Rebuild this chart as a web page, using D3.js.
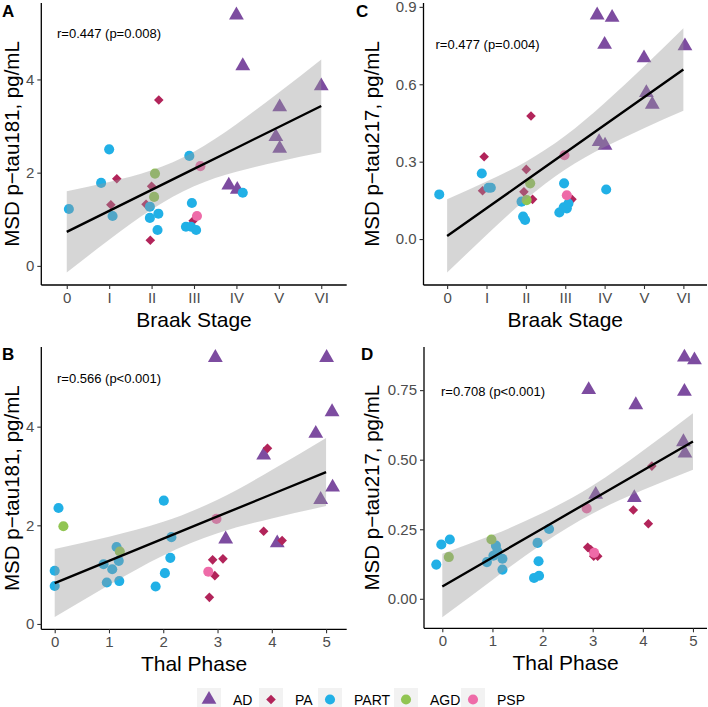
<!DOCTYPE html>
<html>
<head>
<meta charset="utf-8">
<script src="https://cdn.jsdelivr.net/npm/d3@7"></script>
<style>
  html, body { margin: 0; padding: 0; background: #fff; }
  svg { display: block; font-family: "Liberation Sans", Arial, Helvetica, sans-serif; }
</style>
</head>
<body>
<svg id="chart" width="708" height="707"></svg>
<script>
// ---------------- DATA ----------------
const groups = ["AD", "PA", "PART", "AGD", "PSP"];
const groupColors = ["#7D4CA0", "#B2245A", "#21B0E6", "#91C552", "#EE6BA8"];

const braakTickLabels = ["0", "I", "II", "III", "IV", "V", "VI"];
const thalTickLabels = ["0", "1", "2", "3", "4", "5"];
const p181Ticks = [0, 2, 4];
const p217BraakTicks = [0.0, 0.3, 0.6, 0.9];
const p217ThalTicks = [0.00, 0.25, 0.50, 0.75];

// Panel A: Braak stage vs p-tau181  [group, x, y]
const braakP181 = [
  ["AD", 4.00, 5.38], ["AD", 4.15, 4.29], ["AD", 6.00, 3.86], ["AD", 5.02, 3.41],
  ["AD", 4.93, 2.77], ["AD", 5.02, 2.52], ["AD", 3.82, 1.73], ["AD", 4.02, 1.64],
  ["PA", 2.17, 3.56], ["PA", 1.18, 1.87], ["PA", 1.04, 1.31], ["PA", 2.00, 1.71],
  ["PA", 1.87, 1.32], ["PA", 1.97, 0.55], ["PA", 2.98, 0.97],
  ["PART", 0.05, 1.22], ["PART", 1.00, 2.50], ["PART", 0.81, 1.78], ["PART", 1.08, 1.07],
  ["PART", 1.96, 1.27], ["PART", 1.96, 1.03], ["PART", 2.16, 1.12], ["PART", 2.14, 0.77],
  ["PART", 2.89, 2.36], ["PART", 2.95, 1.35], ["PART", 2.81, 0.84], ["PART", 2.93, 0.84],
  ["PART", 3.05, 0.77], ["PART", 4.15, 1.57],
  ["AGD", 2.08, 1.98], ["AGD", 2.06, 1.48],
  ["PSP", 3.15, 2.14], ["PSP", 3.07, 1.07]
];

// Panel C: Braak stage vs p-tau217
const braakP217 = [
  ["AD", 3.81, 0.868], ["AD", 4.19, 0.859], ["AD", 4.00, 0.754], ["AD", 6.04, 0.748],
  ["AD", 5.00, 0.702], ["AD", 5.06, 0.567], ["AD", 5.21, 0.522], ["AD", 3.86, 0.377],
  ["AD", 4.01, 0.363],
  ["PA", 2.13, 0.477], ["PA", 0.94, 0.319], ["PA", 2.01, 0.270], ["PA", 0.90, 0.187],
  ["PA", 1.95, 0.183], ["PA", 2.17, 0.154], ["PA", 3.17, 0.154],
  ["PART", -0.20, 0.173], ["PART", 0.88, 0.254], ["PART", 1.05, 0.199], ["PART", 1.11, 0.199],
  ["PART", 1.89, 0.145], ["PART", 1.93, 0.087], ["PART", 1.98, 0.074], ["PART", 2.97, 0.216],
  ["PART", 2.85, 0.103], ["PART", 2.96, 0.123], ["PART", 3.04, 0.119], ["PART", 3.08, 0.138],
  ["PART", 4.04, 0.192],
  ["AGD", 2.11, 0.216], ["AGD", 2.02, 0.151],
  ["PSP", 2.98, 0.325], ["PSP", 3.04, 0.170]
];

// Panel B: Thal phase vs p-tau181
const thalP181 = [
  ["AD", 2.96, 5.40], ["AD", 5.01, 5.40], ["AD", 5.11, 4.30], ["AD", 4.81, 3.86],
  ["AD", 3.85, 3.42], ["AD", 5.12, 2.77], ["AD", 4.90, 2.52], ["AD", 3.15, 1.72],
  ["AD", 4.10, 1.64],
  ["PA", 3.92, 3.56], ["PA", 3.85, 1.88], ["PA", 4.19, 1.69], ["PA", 2.91, 1.30],
  ["PA", 3.10, 1.32], ["PA", 2.95, 0.98], ["PA", 2.85, 0.54],
  ["PART", 0.07, 2.35], ["PART", 0.00, 1.08], ["PART", 0.00, 0.77], ["PART", 2.01, 2.50],
  ["PART", 2.15, 1.76], ["PART", 1.14, 1.56], ["PART", 0.90, 1.21], ["PART", 1.18, 1.28],
  ["PART", 1.06, 1.11], ["PART", 0.96, 0.84], ["PART", 1.19, 0.87], ["PART", 2.13, 1.34],
  ["PART", 2.03, 1.03], ["PART", 1.86, 0.76],
  ["AGD", 0.16, 1.98], ["AGD", 1.20, 1.47],
  ["PSP", 2.98, 2.13], ["PSP", 2.83, 1.06]
];

// Panel D: Thal phase vs p-tau217
const thalP217 = [
  ["AD", 4.83, 0.868], ["AD", 5.03, 0.858], ["AD", 2.92, 0.751], ["AD", 4.83, 0.745],
  ["AD", 3.86, 0.697], ["AD", 4.81, 0.564], ["AD", 4.84, 0.523], ["AD", 3.06, 0.375],
  ["AD", 3.83, 0.363],
  ["PA", 4.18, 0.477], ["PA", 3.81, 0.319], ["PA", 4.11, 0.270], ["PA", 2.90, 0.185],
  ["PA", 2.96, 0.177], ["PA", 3.02, 0.153], ["PA", 3.10, 0.153],
  ["PART", -0.12, 0.123], ["PART", -0.02, 0.195], ["PART", 0.15, 0.213], ["PART", 0.89, 0.132],
  ["PART", 1.07, 0.191], ["PART", 1.10, 0.171], ["PART", 1.02, 0.155], ["PART", 1.20, 0.144],
  ["PART", 1.20, 0.105], ["PART", 2.13, 0.251], ["PART", 1.90, 0.201], ["PART", 1.92, 0.135],
  ["PART", 1.83, 0.075], ["PART", 1.93, 0.083],
  ["AGD", 0.13, 0.150], ["AGD", 0.98, 0.213],
  ["PSP", 2.88, 0.325], ["PSP", 3.03, 0.165]
];

// Regression fit and 95% band: [x, lower, fit, upper]
const braakP181Band = [
  [0, -0.14, 0.73, 1.60], [1, 0.56, 1.18, 1.80], [2, 1.21, 1.63, 2.05], [3, 1.71, 2.08, 2.45],
  [4, 2.02, 2.53, 3.04], [5, 2.24, 2.98, 3.72], [6, 2.43, 3.43, 4.43]
];
const braakP217Band = [
  [0, -0.130, 0.012, 0.154], [1, 0.016, 0.1195, 0.223], [2, 0.154, 0.227, 0.300],
  [3, 0.270, 0.3345, 0.400], [4, 0.357, 0.442, 0.527], [5, 0.430, 0.5495, 0.669],
  [6, 0.497, 0.657, 0.817]
];
const thalP181Band = [
  [0, 0.14, 0.83, 1.52], [1, 0.79, 1.28, 1.77], [2, 1.39, 1.73, 2.07],
  [3, 1.84, 2.18, 2.52], [4, 2.14, 2.63, 3.12], [5, 2.39, 3.08, 3.77]
];
const thalP217Band = [
  [0, -0.066, 0.0445, 0.162], [1, 0.068, 0.1487, 0.229], [2, 0.198, 0.2529, 0.308],
  [3, 0.307, 0.3571, 0.407], [4, 0.391, 0.4613, 0.532], [5, 0.464, 0.5655, 0.667]
];

const annotations = ["r=0.447 (p=0.008)", "r=0.477 (p=0.004)", "r=0.566 (p<0.001)", "r=0.708 (p<0.001)"];
const panelLetters = ["A", "C", "B", "D"];
const xTitles = ["Braak Stage", "Braak Stage", "Thal Phase", "Thal Phase"];
const yTitles = ["MSD p\u2212tau181, pg/mL", "MSD p\u2212tau217, pg/mL", "MSD p\u2212tau181, pg/mL", "MSD p\u2212tau217, pg/mL"];

// ---------------- LAYOUT ----------------
const panels = [
  { points: braakP181, band: braakP181Band, xticks: braakTickLabels, yticks: p181Ticks, yfmt: d3.format("d"),
    left: 41.3, right: 346.7, top: 3, bottom: 285, xdom: [-0.6, 6.6], ydom: [-0.41, 5.64],
    ytitleX: 18.5, letterX: 2, letterY: 17, annX: 57, annY: 38 },
  { points: braakP217, band: braakP217Band, xticks: braakTickLabels, yticks: p217BraakTicks, yfmt: d3.format(".1f"),
    left: 423.5, right: 707, top: 3, bottom: 285, xdom: [-0.6, 6.6], ydom: [-0.178, 0.915],
    ytitleX: 378.5, letterX: 356, letterY: 17, annX: 435.5, annY: 48.5 },
  { points: thalP181, band: thalP181Band, xticks: thalTickLabels, yticks: p181Ticks, yfmt: d3.format("d"),
    left: 41.3, right: 346.7, top: 347, bottom: 629.3, xdom: [-0.247, 5.38], ydom: [-0.108, 5.615],
    ytitleX: 18.5, letterX: 2, letterY: 360, annX: 57, annY: 383 },
  { points: thalP217, band: thalP217Band, xticks: thalTickLabels, yticks: p217ThalTicks, yfmt: d3.format(".2f"),
    left: 424, right: 707, top: 347, bottom: 628.3, xdom: [-0.365, 5.28], ydom: [-0.106, 0.905],
    ytitleX: 378.5, letterX: 361, letterY: 360, annX: 441, annY: 396 }
];

const svg = d3.select("#chart");
const color = d3.scaleOrdinal().domain(groups).range(groupColors);
const symbolSizes = { AD: 95, PA: 46, PART: 80, AGD: 80, PSP: 80 };
function symbolPath(g, scale) {
  const s = (scale || 1) * symbolSizes[g];
  if (g === "AD") return d3.symbol(d3.symbolTriangle, s)();
  if (g === "PA") return d3.symbol(d3.symbolSquare, s)();
  return d3.symbol(d3.symbolCircle, s)();
}
function symbolRotate(g) { return g === "PA" ? " rotate(45)" : ""; }

const tickColor = "#4D4D4D";

panels.forEach((p, i) => {
  const x = d3.scaleLinear().domain(p.xdom).range([p.left, p.right]);
  const y = d3.scaleLinear().domain(p.ydom).range([p.bottom, p.top]);
  const g = svg.append("g");

  // points (drawn first, under the ribbon)
  g.append("g").selectAll("path").data(p.points).join("path")
    .attr("d", d => symbolPath(d[0]))
    .attr("transform", d => `translate(${x(d[1])},${y(d[2])})` + symbolRotate(d[0]))
    .attr("fill", d => color(d[0]));

  // confidence ribbon
  const area = d3.area().curve(d3.curveNatural)
    .x(d => x(d[0])).y0(d => y(d[1])).y1(d => y(d[3]));
  g.append("path").datum(p.band).attr("d", area)
    .attr("fill", "#999999").attr("fill-opacity", 0.4);

  // fit line
  const line = d3.line().x(d => x(d[0])).y(d => y(d[2]));
  g.append("path").datum(p.band).attr("d", line)
    .attr("fill", "none").attr("stroke", "#000").attr("stroke-width", 2.4);

  // axes
  const xAxis = d3.axisBottom(x)
    .tickValues(d3.range(p.xticks.length))
    .tickFormat((d, k) => p.xticks[k]).tickSizeOuter(0).tickSize(4).tickPadding(3);
  const gx = g.append("g").attr("transform", `translate(0,${p.bottom})`).call(xAxis);
  gx.select(".domain").attr("d", `M${p.left},0H${p.right}`).attr("stroke", "#000").attr("stroke-width", 1.3);
  gx.selectAll(".tick line").attr("stroke", "#333").attr("stroke-width", 1.1);
  gx.selectAll(".tick text").attr("fill", tickColor).attr("font-size", 15)
    .attr("font-family", "Liberation Sans, Arial, sans-serif");

  const yAxis = d3.axisLeft(y).tickValues(p.yticks).tickFormat(p.yfmt)
    .tickSizeOuter(0).tickSize(4).tickPadding(3);
  const gy = g.append("g").attr("transform", `translate(${p.left},0)`).call(yAxis);
  gy.select(".domain").attr("d", `M0,${p.top}V${p.bottom}`).attr("stroke", "#000").attr("stroke-width", 1.3);
  gy.selectAll(".tick line").attr("stroke", "#333").attr("stroke-width", 1.1);
  gy.selectAll(".tick text").attr("fill", tickColor).attr("font-size", 15)
    .attr("font-family", "Liberation Sans, Arial, sans-serif");

  // titles
  g.append("text").attr("x", (p.left + p.right) / 2).attr("y", p.bottom + 41.5)
    .attr("text-anchor", "middle").attr("font-size", 21).attr("fill", "#000").text(xTitles[i]);
  g.append("text").attr("transform", `translate(${p.ytitleX},${(p.top + p.bottom) / 2}) rotate(-90)`)
    .attr("text-anchor", "middle").attr("font-size", 20.5).attr("fill", "#000").text(yTitles[i]);

  // annotation
  g.append("text").attr("x", p.annX).attr("y", p.annY).attr("font-size", 13).attr("fill", "#000")
    .text(annotations[i]);

  // panel letter
  g.append("text").attr("x", p.letterX).attr("y", p.letterY).attr("font-size", 17)
    .attr("font-weight", "bold").attr("fill", "#000").text(panelLetters[i]);
});

// ---------------- LEGEND ----------------
const legendKeyX = [197, 259, 318, 394, 461];
const legend = svg.append("g");
groups.forEach((gname, k) => {
  const kx = legendKeyX[k];
  legend.append("rect").attr("x", kx).attr("y", 688).attr("width", 24).attr("height", 24)
    .attr("fill", "#F2F2F2");
  legend.append("path").attr("d", symbolPath(gname))
    .attr("transform", `translate(${kx + 12},${699.5})` + symbolRotate(gname))
    .attr("fill", color(gname));
  legend.append("text").attr("x", kx + 36).attr("y", 705).attr("font-size", 14).attr("fill", "#000")
    .text(gname);
});
</script>
</body>
</html>
